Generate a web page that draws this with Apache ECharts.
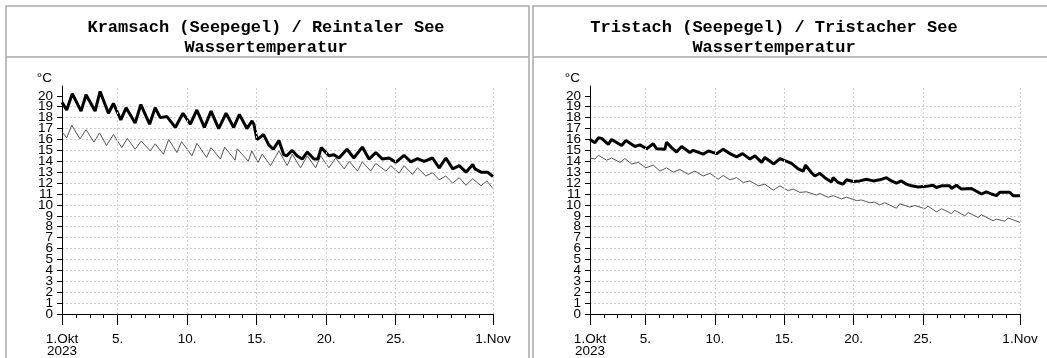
<!DOCTYPE html>
<html>
<head>
<meta charset="utf-8">
<script src="https://cdn.jsdelivr.net/npm/echarts@6/dist/echarts.min.js"></script>
<style>
  html, body { margin: 0; padding: 0; background: #fff; }
  #chart { width: 1047px; height: 358px; }
</style>
</head>
<body>
<div id="chart"></div>
<script>
// days since 1 Oct 2023 00:00, temperature in °C
const kramsachTop = [[0,19.4],[0.34,18.7],[0.74,20.2],[1.37,18.6],[1.73,20.1],[2.38,18.6],[2.74,20.4],[3.34,18.4],[3.7,19.3],[4.23,17.8],[4.61,18.9],[5.26,17.5],[5.67,19.2],[6.3,17.4],[6.7,18.9],[7.07,18.0],[7.55,18.1],[8.15,17.1],[8.7,18.4],[9.23,17.4],[9.7,18.7],[10.24,17.1],[10.72,18.6],[11.27,17.0],[11.8,18.4],[12.35,17.1],[12.76,18.3],[13.3,17.0],[13.67,17.7],[13.8,17.4],[14.03,16.0],[14.2,16.15],[14.5,16.45],[14.87,15.5],[15.2,15.1],[15.6,15.9],[15.95,14.6],[16.15,14.5],[16.56,15.0],[16.9,14.5],[17.28,14.2],[17.64,14.85],[18.12,14.2],[18.4,14.2],[18.65,15.25],[19.2,14.5],[19.56,14.6],[19.92,14.3],[20.5,15.1],[20.99,14.3],[21.6,15.3],[22.08,14.2],[22.57,14.8],[23.05,14.2],[23.53,14.3],[24.0,13.9],[24.6,14.55],[25.09,13.95],[25.57,14.25],[26.05,14.0],[26.65,14.3],[27.13,13.4],[27.61,14.3],[28.1,13.3],[28.57,13.6],[29.06,13.0],[29.54,13.7],[29.7,13.3],[30.14,13.0],[30.6,13.0],[31,12.6]];
const kramsachLow = [[0,16.7],[0.34,16.15],[0.7,17.3],[1.3,16.05],[1.73,16.9],[2.3,15.75],[2.7,16.6],[3.2,15.45],[3.7,16.45],[4.3,15.25],[4.7,16.1],[5.26,15.1],[5.7,15.85],[6.35,14.95],[6.7,15.6],[7.3,14.65],[7.67,16.0],[8.27,14.8],[8.6,15.8],[9.35,14.5],[9.7,15.65],[10.4,14.35],[10.72,15.25],[11.4,14.2],[11.7,15.3],[12.45,14.1],[12.6,15.15],[13.4,14.0],[13.65,14.95],[14.1,13.9],[14.4,14.65],[15.0,13.6],[15.6,14.95],[16.2,13.6],[16.56,14.65],[17.16,13.4],[17.64,14.5],[18.24,13.4],[18.6,14.5],[19.2,13.4],[19.68,14.3],[20.3,13.3],[20.66,14.0],[21.25,13.1],[21.6,13.95],[22.2,13.1],[22.57,13.8],[23.3,13.1],[23.65,13.6],[24.25,12.9],[24.6,13.6],[25.2,12.8],[25.57,13.4],[26.17,12.65],[26.65,12.95],[27.13,12.3],[27.6,12.65],[28.1,12.0],[28.57,12.5],[29.06,11.8],[29.54,12.4],[30.14,11.75],[30.56,12.2],[31,11.5]];
const tristachTop = [[0,16.0],[0.36,15.7],[0.6,16.15],[0.84,16.1],[1.32,15.55],[1.56,16.0],[2.28,15.45],[2.59,15.9],[3.24,15.35],[3.6,15.5],[4.08,15.15],[4.56,15.6],[4.8,15.15],[5.4,15.1],[5.52,15.75],[5.88,15.25],[6.24,14.85],[6.6,15.35],[7.2,14.8],[7.44,15.0],[8.16,14.65],[8.52,14.95],[9.12,14.7],[9.6,15.1],[10.09,14.7],[10.57,14.4],[11.0,14.7],[11.53,14.2],[11.89,14.5],[12.37,13.9],[12.61,14.35],[13.25,13.75],[13.69,14.25],[14.05,14.05],[14.53,13.8],[15.01,13.3],[15.37,13.1],[15.54,13.65],[15.97,12.95],[16.21,12.65],[16.57,12.9],[16.93,12.5],[17.41,12.1],[17.53,12.5],[17.89,12.05],[18.25,11.9],[18.49,12.3],[18.97,12.15],[19.45,12.2],[19.93,12.35],[20.41,12.2],[20.89,12.3],[21.37,12.5],[21.73,12.2],[22.09,12.0],[22.45,12.2],[22.81,11.9],[23.18,11.75],[23.66,11.65],[24.26,11.7],[24.73,11.8],[24.97,11.6],[25.34,11.75],[25.94,11.75],[26.06,11.5],[26.42,11.8],[26.78,11.45],[27.5,11.5],[28.22,11.0],[28.58,11.2],[28.94,11.0],[29.3,10.85],[29.54,11.15],[30.26,11.15],[30.5,10.85],[31,10.85]];
const tristachLow = [[0,14.3],[0.36,14.2],[0.6,14.55],[1.2,14.1],[1.56,14.3],[2.16,13.9],[2.52,14.25],[3.0,13.75],[3.48,13.9],[4.03,13.4],[4.56,13.65],[5.04,13.1],[5.52,13.4],[6.0,13.0],[6.48,13.25],[7.08,12.8],[7.56,13.1],[8.16,12.65],[8.64,12.9],[9.24,12.35],[9.6,12.7],[10.09,12.3],[10.57,12.5],[11.05,12.05],[11.53,12.2],[12.13,11.75],[12.61,11.9],[13.21,11.35],[13.69,11.75],[14.29,11.3],[14.65,11.45],[15.13,11.15],[15.61,11.2],[16.33,10.9],[16.57,11.05],[17.17,10.7],[17.53,10.85],[18.13,10.55],[18.49,10.7],[19.21,10.4],[19.57,10.45],[20.17,10.2],[20.5,10.25],[20.89,10.0],[21.25,10.2],[22.09,9.7],[22.33,10.1],[23.05,9.8],[23.41,9.95],[24.14,9.65],[24.37,9.9],[24.98,9.35],[25.34,9.65],[26.06,9.2],[26.3,9.5],[27.02,9.0],[27.26,9.3],[27.98,8.85],[28.22,9.1],[29.06,8.55],[29.3,8.7],[29.9,8.5],[30.14,8.8],[31,8.4]];

const tickDays = [0, 4, 9, 14, 19, 24, 31];
const tickLabels = ['1.Okt\n2023', '5.', '10.', '15.', '20.', '25.', '1.Nov'];
const gridDays = [4, 9, 14, 19, 24, 31];
const dayTicks = Array.from({ length: 32 }, (_, i) => i);
const tempTicks = Array.from({ length: 21 }, (_, i) => i);
const evenTemps = tempTicks.filter(v => v % 2 === 0);
const oddTemps = tempTicks.filter(v => v % 2 === 1);

const titles = [
  'Kramsach (Seepegel) / Reintaler See\nWassertemperatur',
  'Tristach (Seepegel) / Tristacher See\nWassertemperatur'
];

const chart = echarts.init(document.getElementById('chart'));

const labelFont = { fontFamily: 'Liberation Sans', fontSize: 13.5, color: '#000' };
const gridStyle = { color: '#cfcfcf', type: [2, 2], width: 1 };

function mainX(gi) {
  return {
    type: 'value', gridIndex: gi, min: 0, max: 31, position: 'bottom',
    axisLine: { show: true, onZero: false, lineStyle: { color: '#000' } },
    axisTick: { show: true, length: 11, customValues: tickDays, lineStyle: { color: '#000' } },
    axisLabel: {
      show: true, margin: 19, lineHeight: 12, ...labelFont,
      customValues: tickDays, showMinLabel: true, showMaxLabel: true,
      formatter: v => tickLabels[tickDays.indexOf(Math.round(v))] || ''
    },
    splitLine: { show: false }
  };
}
function minorX(gi) {
  return {
    type: 'value', gridIndex: gi, min: 0, max: 31, position: 'bottom', offset: 0,
    axisLine: { show: false },
    axisTick: { show: true, length: 4, customValues: dayTicks, lineStyle: { color: '#000' } },
    axisLabel: { show: false },
    splitLine: { show: false }
  };
}
// main y axis: line, ticks, grid, even labels
function mainY(gi) {
  return {
    type: 'value', gridIndex: gi, min: 0, max: 20.9, interval: 1, position: 'left',
    name: '°C', nameLocation: 'end', nameGap: 1,
    nameTextStyle: { ...labelFont, align: 'right', padding: [0, 10, 0, 0] },
    axisLine: { show: true, onZero: false, lineStyle: { color: '#000' } },
    axisTick: { show: true, length: 5, customValues: tempTicks, lineStyle: { color: '#000' } },
    axisLabel: {
      show: true, margin: 9, ...labelFont, customValues: evenTemps,
      showMinLabel: true, showMaxLabel: true
    },
    splitLine: { show: true, showMaxLine: false, lineStyle: gridStyle }
  };
}
// second y axis on the same spot, only for the odd labels
function oddY(gi) {
  return {
    type: 'value', gridIndex: gi, min: 0, max: 20.9, interval: 1, position: 'left', offset: 0,
    axisLine: { show: false },
    axisTick: { show: false },
    axisLabel: {
      show: true, margin: 9, ...labelFont, customValues: oddTemps,
      showMinLabel: true, showMaxLabel: true
    },
    splitLine: { show: false }
  };
}

function lineSeries(gi, data, thick) {
  const s = {
    type: 'line', xAxisIndex: gi * 2, yAxisIndex: gi * 2, data: data,
    showSymbol: false, silent: true, animation: false,
    lineStyle: thick ? { color: '#000', width: 3 } : { color: '#555', width: 1 },
    z: thick ? 3 : 2
  };
  if (!thick) {
    s.markLine = {
      silent: true, symbol: 'none', animation: false,
      label: { show: false },
      lineStyle: gridStyle,
      emphasis: { disabled: true },
      data: gridDays.map(d => ({ xAxis: d }))
    };
  }
  return s;
}

const titleStyle = {
  fontFamily: 'Liberation Mono', fontWeight: 'bold', fontSize: 17, lineHeight: 20, color: '#000'
};

chart.setOption({
  animation: false,
  title: [
    { text: titles[0], left: 261, top: 13, textAlign: 'center', textStyle: titleStyle },
    { text: titles[1], left: 769, top: 13, textAlign: 'center', textStyle: titleStyle }
  ],
  grid: [
    { left: 62, top: 86, width: 431, height: 230 },
    { left: 590, top: 86, width: 430, height: 230 }
  ],
  xAxis: [mainX(0), minorX(0), mainX(1), minorX(1)],
  yAxis: [mainY(0), oddY(0), mainY(1), oddY(1)],
  series: [
    lineSeries(0, kramsachLow, false),
    lineSeries(0, kramsachTop, true),
    lineSeries(1, tristachLow, false),
    lineSeries(1, tristachTop, true)
  ],
  graphic: [
    { type: 'rect', shape: { x: 6, y: 6, width: 523, height: 370 }, style: { fill: 'none', stroke: '#aaa', lineWidth: 1.5 }, silent: true },
    { type: 'line', shape: { x1: 6, y1: 57, x2: 529, y2: 57 }, style: { stroke: '#aaa', lineWidth: 1.5 }, silent: true },
    { type: 'rect', shape: { x: 533, y: 6, width: 530, height: 370 }, style: { fill: 'none', stroke: '#aaa', lineWidth: 1.5 }, silent: true },
    { type: 'line', shape: { x1: 533, y1: 57, x2: 1047, y2: 57 }, style: { stroke: '#aaa', lineWidth: 1.5 }, silent: true }
  ]
});
</script>
</body>
</html>
